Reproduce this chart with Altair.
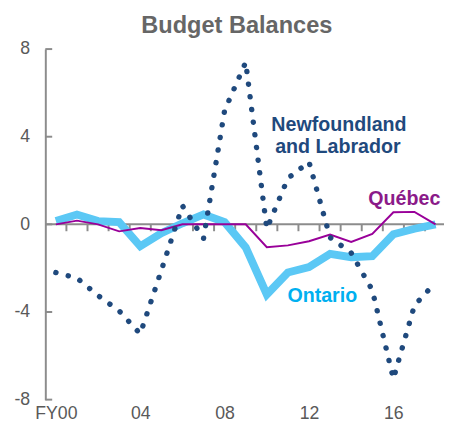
import altair as alt
import pandas as pd

# ---- data ----
years = list(range(19))  # FY00 .. FY18
ontario = [0.15, 0.45, 0.15, 0.1, -1.0, -0.4, 0.05, 0.45, 0.1, -1.05, -3.2, -2.2,
           -1.95, -1.35, -1.5, -1.45, -0.45, -0.2, 0.0]
quebec = [0.0, 0.17, 0.0, -0.32, -0.17, -0.27, 0.0, 0.0, 0.0, 0.0, -1.04, -0.96,
          -0.77, -0.47, -0.8, -0.44, 0.55, 0.57, 0.0]
newfoundland = [-2.2, -2.45, -3.25, -3.95, -5.0, -2.1, 0.85, -0.65, 5.2, 7.4, -0.2,
                2.1, 2.85, -0.6, -1.3, -3.0, -7.05, -3.7, -2.65]

y_ticks = [-8, -4, 0, 4, 8]
x_label_years = [0, 4, 8, 12, 16]
x_label_text = ["FY00", "04", "08", "12", "16"]

label_text = ["Newfoundland", "and Labrador", "Ontario", "Québec"]
label_x = [13.42, 13.37, 12.63, 16.52]
label_y = [4.28, 3.26, -3.53, 0.87]
label_color = ["#1F497D", "#1F497D", "#00B0F0", "#8B1A89"]

# ---- styling ----
FONT = "Liberation Sans"
GRAY = "#8c8c8c"
LABEL_GRAY = "#595959"

xscale = alt.Scale(domain=[-0.5, 18.4], nice=False, zero=False)
yscale = alt.Scale(domain=[-8, 8], nice=False, zero=False)

label_expr = ("[" + ",".join(f"'{t}'" for t in x_label_text) + "][indexof("
              + str(x_label_years) + ", datum.value)]")

xaxis = alt.Axis(values=x_label_years, labelExpr=label_expr, domain=False,
                 ticks=False, tickSize=0, grid=False, title=None,
                 labelFontSize=18, labelColor=LABEL_GRAY, labelFont=FONT,
                 labelPadding=5, labelFlush=False, labelOverlap=False)
yaxis = alt.Axis(values=y_ticks, labelExpr="'' + datum.value", domain=True,
                 domainColor=GRAY, domainWidth=2, ticks=False, tickSize=0,
                 grid=False, title=None, labelFontSize=18,
                 labelColor=LABEL_GRAY, labelFont=FONT, labelPadding=16)


def X(field):
    return alt.X(field, type="quantitative", scale=xscale, axis=xaxis)


def Y(field):
    return alt.Y(field, type="quantitative", scale=yscale, axis=yaxis)


def series(vals):
    return pd.DataFrame({"x": years, "y": vals})


# zero line (x axis line through 0) and its downward ticks at year boundaries
zero_df = pd.DataFrame({"x": [xscale.domain[0]], "x2": [xscale.domain[1]], "y": [0]})
zero_line = alt.Chart(zero_df).mark_rule(color=GRAY, strokeWidth=2).encode(
    x=X("x"), x2="x2", y=Y("y"))

bound_df = pd.DataFrame({"x": [v + 0.5 for v in years[:-1]], "y": [0] * (len(years) - 1)})
x_ticks = alt.Chart(bound_df).mark_rule(color=GRAY, strokeWidth=2, y2Offset=7).encode(
    x=X("x"), y=Y("y"), y2="y")

ytick_df = pd.DataFrame({"y": y_ticks})
y_tick_marks = alt.Chart(ytick_df).mark_rule(color=GRAY, strokeWidth=2).encode(
    y=Y("y"), x=alt.value(0), x2=alt.value(7))

ont = alt.Chart(series(ontario)).mark_line(color="#5BC8F5", strokeWidth=8).encode(
    x=X("x"), y=Y("y"))
que = alt.Chart(series(quebec)).mark_line(color="#990099", strokeWidth=2).encode(
    x=X("x"), y=Y("y"))
nfl = alt.Chart(series(newfoundland)).mark_line(
    color="#1F497D", strokeWidth=5.5, strokeDash=[0.1, 12.9], strokeCap="round").encode(
    x=X("x"), y=Y("y"))

lab_df = pd.DataFrame({"t": label_text, "x": label_x, "y": label_y, "c": label_color})
labels = alt.Chart(lab_df).mark_text(
    font=FONT, fontSize=20, fontWeight="bold", align="center", baseline="alphabetic"
).encode(x=X("x"), y=Y("y"), text="t", color=alt.Color("c", scale=None))

chart = alt.layer(zero_line, x_ticks, y_tick_marks, ont, que, nfl, labels).properties(
    width=406, height=357,
    title=alt.TitleParams("Budget Balances", fontSize=24, fontWeight="bold",
                          font=FONT, color="#666666", anchor="middle", dx=-8,
                          offset=2),
    autosize=alt.AutoSizeParams(type="none"),
    padding={"left": 38, "top": 38, "right": 0, "bottom": 22},
).configure_view(stroke=None)

chart.save("out.html", embed_options={"renderer": "svg", "actions": False})
